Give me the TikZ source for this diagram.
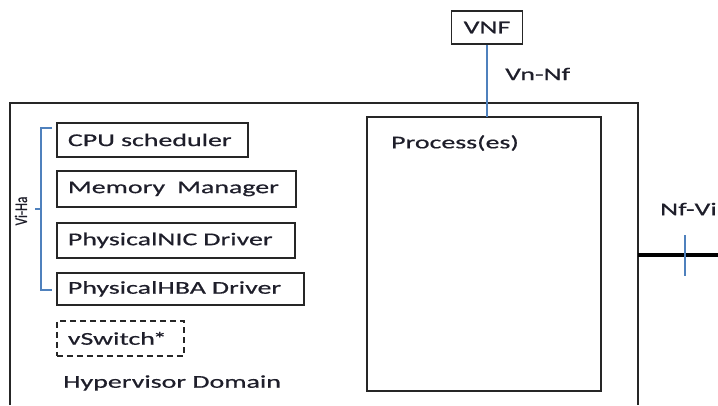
\documentclass[tikz,border=0pt]{standalone}
\usepackage{fontspec}
\setmainfont[FakeStretch=1.55,FakeBold=0.6]{Carlito}
\newfontfamily\labelfont[FakeBold=0.6]{Carlito}
\definecolor{ink}{HTML}{1E1E2A}
\definecolor{frame}{HTML}{262626}
\definecolor{link}{HTML}{4F81BD}
\begin{document}
\begin{tikzpicture}[x=1pt,y=-1pt,
  txt/.style={font=\fontsize{18}{20}\selectfont, text=ink},
  box/.style={draw=frame, line width=1.8pt, txt, anchor=north west,
    align=left, inner xsep=11pt, inner ysep=0pt},
  iface/.style={draw=link, line width=1.3pt},
  wall/.style={draw=frame, line width=1.8pt}]
\useasboundingbox (0,0) rectangle (718,405);

% hypervisor domain enclosure (continues below the page edge)
\draw[wall] (10,405) -- (10,103) -- (638,103) -- (638,405);

% components of the hypervisor domain
\node[box, text width=169pt, minimum height=34pt] (cpu) at (56,122) {CPU scheduler};
\node[box, text width=217pt, minimum height=36pt] (mem) at (56,170) {Memory\ \ Manager};
\node[box, text width=216pt, minimum height=35pt] (nic) at (56,222) {PhysicalNIC Driver};
\node[box, text width=225pt, minimum height=32pt] (hba) at (56,272) {PhysicalHBA Driver};
\node[box, dash pattern=on 6pt off 4pt, text width=105pt, minimum height=35pt] (vsw) at (56,320) {vSwitch\kern-2pt*};
\node[txt, anchor=west, inner sep=0pt] (hyp) at (63,383) {Hypervisor Domain};

% Vi-Ha bracket
\draw[iface] (52,128) -- (41,128) -- (41,290) -- (52,290);
\draw[iface] (41,209) -- (35,209);
\node[font=\labelfont\fontsize{13}{13}\selectfont, text=ink, rotate=90, inner sep=0pt] (viha) at (21,211) {\scalebox{1}[1.35]{Vi-Ha}};

% process container
\draw[wall] (367,117) rectangle (601,391);
\coordinate (proctop) at (487,117);
\node[txt, anchor=west, inner sep=0pt] (proc) at (391,143) {Process(es)};

% VNF and its interface
\node[draw=frame, line width=1.8pt, txt, minimum width=71pt, minimum height=33pt, inner sep=0pt] (vnf) at (487,27.5) {VNF};
\draw[iface] (vnf.south) -- (proctop);
\node[txt, anchor=west, inner sep=0pt] (vnnf) at (505,74) {Vn-Nf};

% Nf-Vi interface to the infrastructure
\coordinate (nfa) at (638,255);
\coordinate (nfb) at (718,255);
\draw[draw=black, line width=3.2pt] (nfa) -- (nfb);
\draw[iface] (685,235) -- (685,276);
\node[txt, anchor=west, inner sep=0pt] (nfvi) at (660,209) {Nf-Vi};
\end{tikzpicture}
\end{document}
